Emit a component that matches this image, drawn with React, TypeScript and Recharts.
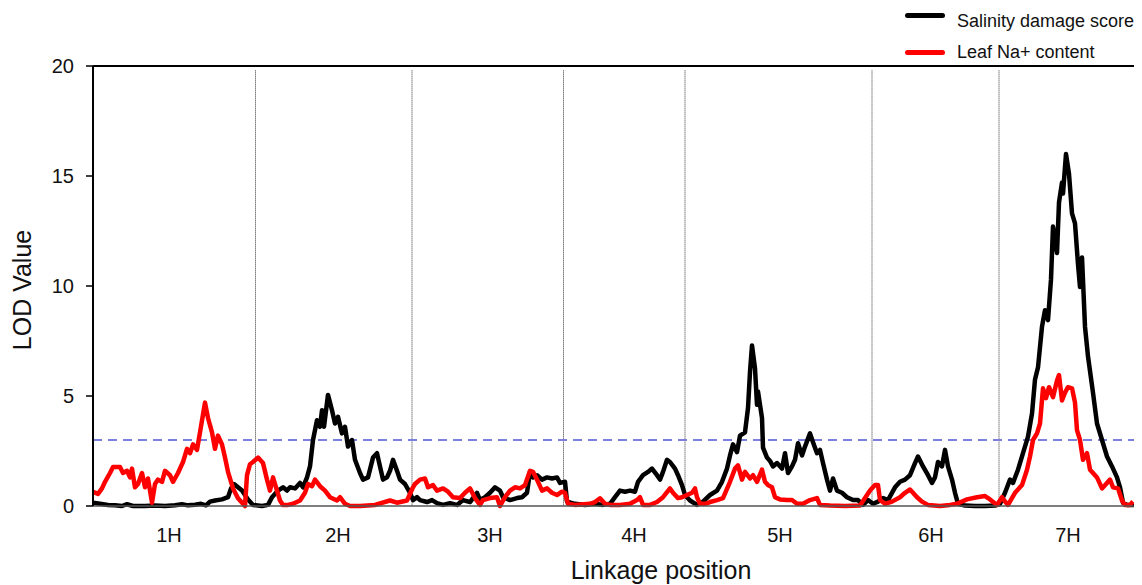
import React from "react";
import {
  LineChart,
  Line,
  XAxis,
  YAxis,
  ReferenceLine,
} from "recharts";

// [linkage position, LOD]
const salinityDamage: [number, number][] = [
  [0, 0.15], [7, 0.1], [15, 0.05], [22, 0.03], [29, 0], [34, 0.08], [40, 0], [52, 0], [62, 0.02], [72, 0],
  [82, 0.03], [89, 0.08], [95, 0.03], [102, 0.06], [108, 0.1], [113, 0.03], [117, 0.2], [122, 0.25], [129, 0.3], [135, 0.4],
  [138, 0.8], [141, 1.0], [145, 0.85], [149, 0.7], [155, 0.3], [160, 0.05], [169, 0], [175, 0.05], [179, 0.4], [185, 0.7],
  [190, 0.85], [194, 0.7], [197, 0.85], [202, 0.8], [207, 1.05], [210, 0.85], [214, 1.3], [217, 1.8], [220, 3.0], [224, 3.9],
  [227, 3.6], [229, 4.35], [231, 3.6], [235, 5.05], [239, 4.35], [242, 3.75], [245, 4.05], [249, 3.3], [252, 3.6], [255, 2.7],
  [259, 3.0], [262, 2.1], [267, 1.5], [270, 1.2], [275, 1.3], [280, 2.2], [284, 2.4], [287, 1.8], [290, 1.2], [294, 1.3],
  [297, 1.6], [300, 2.1], [304, 1.6], [307, 1.2], [312, 1.0], [317, 0.6], [320, 0.27], [324, 0.4], [327, 0.27], [334, 0.18],
  [339, 0.27], [344, 0.13], [350, 0.05], [357, 0.13], [364, 0.05], [370, 0.27], [377, 0.18], [384, 0.6], [387, 0.27], [392, 0.4],
  [397, 0.6], [402, 0.85], [407, 0.7], [410, 0.4], [417, 0.27], [424, 0.36], [429, 0.4], [434, 0.6], [437, 1.55], [440, 1.3],
  [444, 1.4], [449, 1.2], [454, 1.3], [459, 1.25], [464, 1.3], [467, 1.05], [472, 1.1], [474, 0.2], [482, 0.1], [492, 0.05],
  [502, 0.1], [510, 0.05], [517, 0.1], [522, 0.4], [527, 0.7], [532, 0.65], [537, 0.7], [542, 0.65], [545, 1.1], [550, 1.4],
  [555, 1.55], [559, 1.7], [564, 1.4], [567, 1.2], [570, 1.55], [574, 2.1], [577, 2.0], [582, 1.7], [585, 1.4], [589, 0.95],
  [592, 0.5], [597, 0.25], [604, 0.05], [610, 0.2], [617, 0.5], [624, 0.7], [629, 1.1], [634, 1.7], [637, 2.3], [640, 2.8],
  [644, 2.45], [647, 3.2], [652, 3.35], [655, 4.45], [657, 6.1], [659, 7.3], [662, 6.25], [664, 4.6], [665, 5.2], [669, 4.0],
  [670, 2.65], [674, 2.2], [677, 2.05], [680, 1.8], [684, 1.95], [689, 1.7], [692, 2.4], [695, 1.5], [699, 1.8], [702, 2.1],
  [705, 2.85], [709, 2.3], [712, 2.7], [717, 3.3], [720, 2.9], [724, 2.4], [727, 2.55], [730, 1.95], [734, 1.2], [737, 0.7],
  [740, 1.25], [744, 0.7], [749, 0.6], [754, 0.4], [760, 0.27], [765, 0.27], [770, 0.05], [775, 0.27], [780, 0.1], [785, 0.2],
  [790, 0.36], [795, 0.27], [802, 0.85], [807, 1.1], [812, 1.2], [817, 1.4], [822, 1.95], [825, 2.25], [830, 1.8], [835, 1.4],
  [839, 1.05], [842, 1.3], [845, 2.0], [849, 1.8], [852, 2.55], [855, 1.8], [859, 1.2], [862, 0.6], [865, 0.1], [872, 0.02],
  [882, 0], [892, 0], [902, 0.02], [907, 0.1], [912, 0.6], [917, 1.2], [920, 1.05], [925, 1.65], [930, 2.4], [935, 3.15],
  [939, 4.2], [942, 5.75], [945, 6.3], [949, 8.15], [952, 8.9], [955, 8.45], [958, 10.3], [960, 12.7], [962, 12.2], [964, 11.5],
  [966, 13.8], [969, 14.7], [970, 14.2], [973, 16.0], [976, 15.1], [979, 13.3], [982, 12.85], [985, 11.0], [987, 9.95], [989, 11.3],
  [992, 8.15], [995, 6.8], [1000, 5.15], [1004, 3.75], [1009, 3.0], [1014, 2.25], [1019, 1.8], [1024, 1.3], [1027, 0.85], [1030, 0.15],
  [1034, 0.05], [1042, 0.05],
];

const leafNa: [number, number][] = [
  [0, 0.64], [5, 0.55], [9, 0.8], [12, 1.1], [17, 1.5], [20, 1.77], [27, 1.77], [30, 1.5], [34, 1.6], [37, 1.3],
  [39, 1.7], [42, 0.85], [45, 1.0], [49, 1.5], [52, 0.85], [55, 1.25], [59, 0.15], [62, 1.0], [65, 1.2], [69, 1.1],
  [72, 1.6], [77, 1.4], [80, 1.1], [85, 1.5], [90, 2.0], [94, 2.6], [97, 2.4], [100, 2.8], [104, 2.55], [107, 3.35],
  [112, 4.7], [115, 4.0], [119, 3.35], [122, 2.6], [125, 3.2], [129, 2.8], [132, 2.2], [135, 1.55], [140, 0.8], [145, 0.35],
  [152, 0], [154, 1.4], [157, 1.9], [160, 2.0], [165, 2.2], [170, 1.95], [174, 1.2], [177, 0.7], [180, 1.3], [184, 0.7],
  [187, 0.25], [190, 0.05], [195, 0.05], [200, 0.1], [207, 0.25], [212, 0.6], [215, 1.0], [219, 0.9], [222, 1.2], [227, 0.9],
  [232, 0.7], [237, 0.4], [244, 0.25], [247, 0.4], [252, 0.1], [257, 0], [267, 0], [282, 0.05], [297, 0.25], [304, 0.15],
  [314, 0.25], [320, 0.85], [322, 1.0], [327, 1.2], [332, 1.25], [335, 0.85], [340, 0.95], [344, 0.7], [350, 0.8], [355, 0.65],
  [360, 0.4], [367, 0.36], [372, 0.6], [377, 0.8], [382, 0.36], [387, 0.05], [390, 0.27], [397, 0.36], [404, 0.4], [407, 0],
  [412, 0.4], [417, 0.7], [422, 0.85], [427, 0.8], [432, 0.95], [437, 1.6], [440, 1.55], [444, 1.2], [449, 0.7], [454, 0.8],
  [459, 0.6], [464, 0.5], [469, 0.65], [472, 0.6], [475, 0.1], [482, 0.05], [497, 0.1], [502, 0.18], [507, 0.35], [512, 0.1],
  [517, 0.05], [527, 0.05], [537, 0.1], [544, 0.27], [547, 0.4], [550, 0.05], [557, 0.05], [564, 0.18], [570, 0.4], [577, 0.8],
  [580, 0.6], [585, 0.36], [589, 0.4], [594, 0.5], [599, 0.6], [602, 0.8], [604, 0.4], [607, 0.1], [612, 0.1], [617, 0.18],
  [624, 0.27], [630, 0.36], [637, 1.1], [642, 1.7], [645, 1.85], [649, 1.2], [652, 1.55], [657, 1.25], [660, 1.4], [664, 1.1],
  [669, 1.65], [672, 1.1], [675, 0.95], [679, 0.85], [682, 0.4], [687, 0.3], [694, 0.27], [699, 0.27], [704, 0.1], [710, 0.1],
  [717, 0.27], [724, 0.36], [727, 0.05], [737, 0.02], [752, 0], [767, 0.02], [772, 0.36], [777, 0.7], [782, 0.95], [785, 0.95],
  [787, 0.27], [792, 0.1], [799, 0.2], [807, 0.4], [812, 0.6], [817, 0.75], [820, 0.6], [824, 0.4], [829, 0.2], [835, 0.05],
  [847, 0], [857, 0.05], [864, 0.1], [874, 0.3], [884, 0.4], [892, 0.45], [897, 0.3], [904, 0.05], [909, 0.4], [912, 0.2],
  [915, 0.05], [922, 0.6], [929, 0.95], [934, 1.65], [937, 2.25], [940, 3.0], [944, 3.3], [947, 3.75], [950, 5.35], [953, 4.9],
  [956, 5.4], [960, 4.95], [964, 5.7], [966, 5.95], [969, 4.8], [972, 5.15], [975, 5.4], [979, 5.35], [982, 4.7], [984, 3.45],
  [987, 3.0], [990, 2.1], [994, 2.4], [997, 1.65], [1000, 1.5], [1004, 1.3], [1009, 0.8], [1014, 1.05], [1017, 1.2], [1020, 0.85],
  [1025, 0.8], [1029, 0.25], [1032, 0.05], [1037, 0.05], [1040, 0.2],
];

const chromosomes = ["1H", "2H", "3H", "4H", "5H", "6H", "7H"];
const labelPositions = [76, 245, 397, 541, 687, 838, 975];
const chromosomeBreaks = [162.5, 319, 470.5, 592, 779, 906];
const lodTicks = [0, 5, 10, 15, 20];
const lodThreshold = 3;
const maxPosition = 1048;

const damageData = salinityDamage.map(([pos, lod]) => ({ pos, lod }));
const naData = leafNa.map(([pos, lod]) => ({ pos, lod }));

const font = "'Liberation Sans', Arial, sans-serif";

export default function App() {
  return (
    <div style={{ position: "relative", width: 1134, height: 577, fontFamily: font }}>
      <LineChart
        width={1134}
        height={577}
        margin={{ top: 58, right: 1, bottom: 0, left: 0 }}
      >
        <XAxis
          type="number"
          dataKey="pos"
          domain={[0, maxPosition]}
          ticks={labelPositions}
          tickFormatter={(v: number) => chromosomes[labelPositions.indexOf(v)] ?? ""}
          tickLine={false}
          tickSize={0}
          tickMargin={22}
          height={79}
          axisLine={{ stroke: "#555", strokeWidth: 1.5 }}
          tick={{ fontSize: 20, fill: "#111", fontFamily: font }}
          allowDataOverflow
          label={{
            content: () => (
              <text x={653} y={571} textAnchor="middle" fontSize={25} fill="#111" fontFamily={font}>
                Linkage position
              </text>
            ),
          }}
        />
        <YAxis
          type="number"
          domain={[0, 20]}
          ticks={lodTicks}
          width={85}
          tickSize={7}
          tickMargin={12}
          axisLine={{ stroke: "#000", strokeWidth: 2 }}
          tickLine={{ stroke: "#000", strokeWidth: 1.5 }}
          tick={{ fontSize: 20, fill: "#111", fontFamily: font }}
          label={{
            content: () => (
              <text
                x={14}
                y={282}
                transform="rotate(-90 14 282)"
                textAnchor="middle"
                dominantBaseline="central"
                fontSize={25}
                fill="#111"
                fontFamily={font}
              >
                LOD Value
              </text>
            ),
          }}
        />
        <ReferenceLine y={20} stroke="#000" strokeWidth={2} />
        <ReferenceLine x={maxPosition} stroke="#000" strokeWidth={1.5} />
        {chromosomeBreaks.map((b) => (
          <ReferenceLine
            key={b}
            segment={[{ x: b, y: 19.8 }, { x: b, y: 0 }]}
            stroke="#333"
            strokeWidth={1}
            strokeDasharray="1 1"
          />
        ))}
        <ReferenceLine
          y={lodThreshold}
          stroke="#7b7fdd"
          strokeWidth={2}
          strokeDasharray="9 6"
        />
        <Line
          data={damageData}
          dataKey="lod"
          type="linear"
          stroke="#000"
          strokeWidth={4.5}
          strokeLinejoin="round"
          dot={false}
          isAnimationActive={false}
        />
        <Line
          data={naData}
          dataKey="lod"
          type="linear"
          stroke="#ff0000"
          strokeWidth={4.5}
          strokeLinejoin="round"
          dot={false}
          isAnimationActive={false}
        />
      </LineChart>
      <div style={{ position: "absolute", left: 897, top: 5, width: 40, height: 5, background: "#000", borderRadius: 2.5 }} />
      <div style={{ position: "absolute", left: 949, top: 4, fontSize: 18, lineHeight: "18px", color: "#111", whiteSpace: "nowrap" }}>
        Salinity damage score
      </div>
      <div style={{ position: "absolute", left: 897, top: 42, width: 40, height: 5, background: "#ff0000", borderRadius: 2.5 }} />
      <div style={{ position: "absolute", left: 949, top: 35, fontSize: 18, lineHeight: "18px", color: "#111", whiteSpace: "nowrap" }}>
        Leaf Na+ content
      </div>
    </div>
  );
}
